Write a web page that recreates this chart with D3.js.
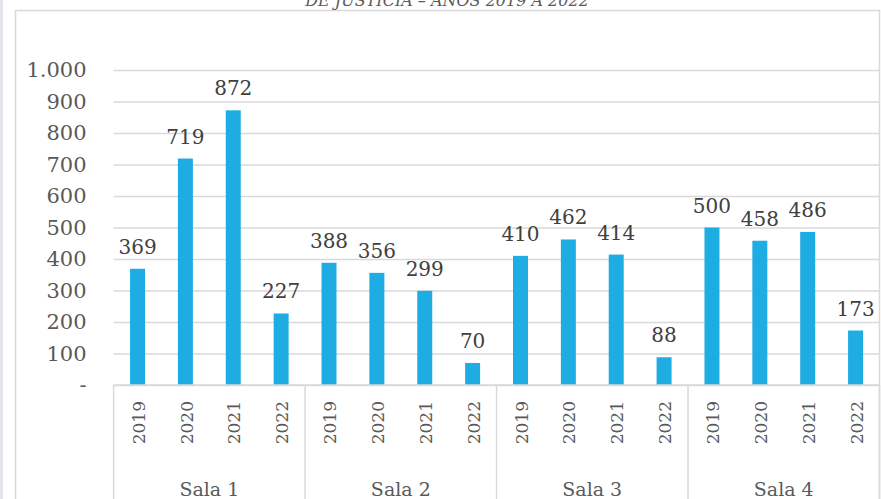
<!DOCTYPE html>
<html>
<head>
<meta charset="utf-8">
<script src="https://cdn.jsdelivr.net/npm/d3@7"></script>
<style>
  html, body { margin: 0; padding: 0; background: #ffffff; }
  svg { display: block; }
  text { font-family: "DejaVu Serif", "Liberation Serif", serif; }
</style>
</head>
<body>
<svg id="chart" width="881" height="499"></svg>
<script>
// ---- data ----
const groups = ["Sala 1", "Sala 2", "Sala 3", "Sala 4"];
const years = ["2019", "2020", "2021", "2022"];
const sala1 = [369, 719, 872, 227];
const sala2 = [388, 356, 299, 70];
const sala3 = [410, 462, 414, 88];
const sala4 = [500, 458, 486, 173];
const yTicks = [0, 100, 200, 300, 400, 500, 600, 700, 800, 900, 1000];
const titleText = "DE JUSTICIA – AÑOS 2019 A 2022";

const seriesByGroup = [sala1, sala2, sala3, sala4];
const rows = [];
groups.forEach((g, gi) => years.forEach((yr, yi) => rows.push({ group: g, year: yr, value: seriesByGroup[gi][yi] })));

// ---- layout ----
const W = 881, H = 499;
const plotL = 113.6, plotR = 879.5, plotT = 70, plotB = 385;

const svg = d3.select("#chart");

// left strip
svg.append("rect").attr("x", 0).attr("y", 0).attr("width", 3).attr("height", H).attr("fill", "#e2e6eb");

// chart frame
svg.append("path")
  .attr("d", `M15.5,${H} L15.5,10.5 L879.5,10.5 L879.5,${H}`)
  .attr("fill", "none").attr("stroke", "#d9d9d9").attr("stroke-width", 1.5);

// title (only its lower line is visible, cut off at the top as in the reference)
svg.append("text")
  .attr("x", 447).attr("y", 6)
  .attr("text-anchor", "middle")
  .attr("font-style", "italic")
  .attr("font-size", 16)
  .attr("fill", "#595959")
  .text(titleText);

// scales
const x0 = d3.scaleBand().domain(groups).range([plotL, plotR]).padding(0);
const x1 = d3.scaleBand().domain(years).range([0, x0.bandwidth()]).paddingInner(0.687).paddingOuter(0.3435);
const y = d3.scaleLinear().domain([0, 1000]).range([plotB, plotT]);

const fmtLocale = d3.formatLocale({ decimal: ",", thousands: ".", grouping: [3], currency: ["$", ""] });
const fmt = fmtLocale.format(",d");

// y axis with gridlines
const yAxis = d3.axisLeft(y)
  .tickValues(yTicks)
  .tickSize(-(plotR - plotL))
  .tickPadding(27)
  .tickFormat(d => d === 0 ? "-" : fmt(d));

const gy = svg.append("g").attr("transform", `translate(${plotL},0)`).call(yAxis);
gy.select(".domain").remove();
gy.selectAll(".tick line").attr("stroke", "#d9d9d9").attr("stroke-width", 1.5);
gy.selectAll(".tick text")
  .attr("font-family", "DejaVu Serif")
  .attr("font-size", 21)
  .attr("fill", "#595959");

// bars
svg.append("g").selectAll("rect").data(rows).join("rect")
  .attr("x", d => x0(d.group) + x1(d.year))
  .attr("y", d => y(d.value))
  .attr("width", x1.bandwidth())
  .attr("height", d => y(0) - y(d.value))
  .attr("fill", "#1eade3");

// data labels
svg.append("g").selectAll("text").data(rows).join("text")
  .attr("x", d => x0(d.group) + x1(d.year) + x1.bandwidth() / 2)
  .attr("y", d => y(d.value) - 15)
  .attr("text-anchor", "middle")
  .attr("font-size", 20)
  .attr("fill", "#404040")
  .text(d => fmt(d.value));

// category axis lines
const axisG = svg.append("g");
axisG.append("line")
  .attr("x1", plotL).attr("x2", plotR).attr("y1", plotB).attr("y2", plotB)
  .attr("stroke", "#d9d9d9").attr("stroke-width", 1.5);
const seps = groups.map(g => x0(g)).concat([plotR]);
axisG.selectAll("line.sep").data(seps).join("line").attr("class", "sep")
  .attr("x1", d => d).attr("x2", d => d)
  .attr("y1", plotB).attr("y2", H)
  .attr("stroke", "#d9d9d9").attr("stroke-width", 1.5);

// year labels (rotated)
svg.append("g").selectAll("text").data(rows).join("text")
  .attr("transform", d => `translate(${x0(d.group) + x1(d.year) + x1.bandwidth() / 2 + 1},401) rotate(-90)`)
  .attr("text-anchor", "end")
  .attr("dy", "0.36em")
  .attr("font-size", 17)
  .attr("fill", "#595959")
  .text(d => d.year);

// group labels
svg.append("g").selectAll("text").data(groups).join("text")
  .attr("x", d => x0(d) + x0.bandwidth() / 2)
  .attr("y", 496)
  .attr("text-anchor", "middle")
  .attr("font-size", 19)
  .attr("fill", "#595959")
  .text(d => d);
</script>
</body>
</html>
